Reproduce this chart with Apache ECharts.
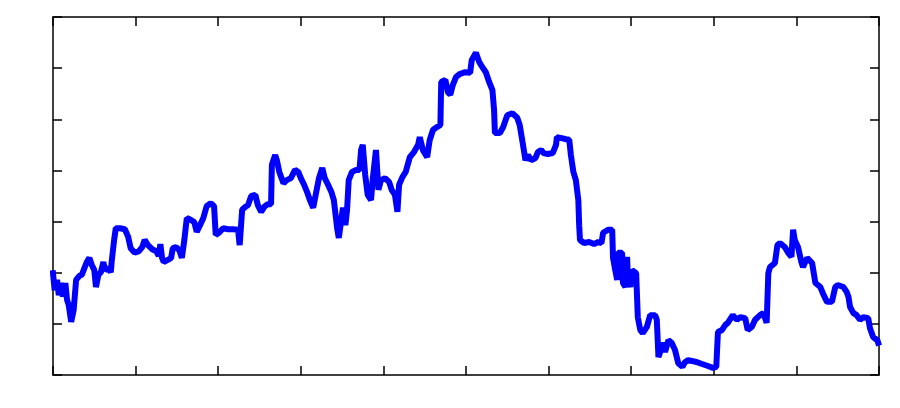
<!DOCTYPE html>
<html>
<head>
<meta charset="utf-8">
<script src="https://cdn.jsdelivr.net/npm/echarts@6/dist/echarts.min.js"></script>
<style>
  html, body { margin: 0; padding: 0; background: #fff; }
  #chart { width: 900px; height: 408px; }
</style>
</head>
<body>
<div id="chart"></div>
<script>
// random walk series (x: step index, y: level)
var days = [
  0, 2, 5, 7, 10, 12, 15, 17, 19, 22, 24, 25, 28, 32, 35, 38, 41, 44, 47, 50,
  52, 55, 58, 61, 63, 67, 70, 71, 74, 76, 81, 87, 91, 94, 99, 104, 108, 111, 115, 120,
  125, 128, 130, 132, 134, 139, 143, 145, 149, 153, 156, 159, 162, 167, 171, 174, 178, 182, 186, 191,
  195, 197, 201, 206, 212, 218, 224, 226, 229, 233, 236, 240, 245, 248, 252, 256, 260, 264, 265, 269,
  271, 274, 279, 283, 288, 293, 297, 300, 304, 308, 311, 315, 318, 322, 326, 329, 333, 337, 340, 344,
  346, 349, 351, 354, 356, 358, 362, 367, 371, 373, 375, 378, 381, 385, 387, 391, 394, 397, 402, 407,
  410, 414, 417, 419, 423, 427, 432, 437, 442, 444, 448, 453, 456, 460, 465, 469, 470, 475, 478, 481,
  484, 488, 493, 499, 505, 507, 512, 516, 519, 524, 528, 532, 534, 535, 541, 545, 550, 556, 562, 565,
  569, 572, 575, 579, 584, 587, 591, 594, 599, 605, 609, 610, 616, 621, 625, 627, 630, 633, 636, 637,
  638, 643, 649, 655, 660, 664, 666, 672, 677, 678, 680, 683, 684, 689, 690, 693, 695, 696, 699, 701,
  706, 708, 711, 714, 719, 723, 729, 731, 733, 735, 739, 741, 745, 749, 753, 757, 762, 765, 769, 775,
  780, 785, 792, 799, 803, 805, 810, 814, 817, 823, 828, 832, 838, 841, 846, 850, 856, 860, 864, 866,
  868, 874, 877, 880, 886, 890, 894, 896, 898, 902, 906, 908, 913, 919, 923, 929, 932, 937, 943, 947,
  950, 957, 961, 963, 965, 969, 973, 977, 981, 987, 989, 993, 998, 999
];
var levels = [
  19.9, 16.6, 18.6, 15.6, 18.0, 15.3, 18.0, 14.7, 13.7, 10.4, 10.2, 12.7, 18.6, 19.4, 19.6, 20.9, 22.1, 22.9, 21.5, 20.5,
  17.2, 19.6, 20.1, 22.1, 20.5, 20.9, 20.1, 22.1, 26.4, 28.7, 28.7, 28.5, 27.0, 24.8, 23.9, 24.2, 25.0, 26.4, 25.4, 24.6,
  24.2, 23.3, 25.6, 22.9, 22.1, 22.5, 22.9, 24.8, 25.0, 24.4, 22.9, 26.4, 30.7, 30.3, 29.9, 28.0, 29.3, 30.7, 33.0, 33.6,
  33.0, 27.4, 27.8, 28.7, 28.5, 28.5, 28.4, 25.4, 32.3, 32.9, 33.2, 35.0, 35.2, 33.2, 31.9, 32.9, 33.4, 33.4, 41.1, 43.0,
  42.0, 39.7, 37.5, 38.1, 38.5, 40.1, 39.7, 38.5, 37.2, 35.6, 34.2, 32.7, 35.2, 38.5, 40.5, 38.5, 37.2, 35.8, 34.2, 28.7,
  26.8, 30.3, 32.7, 29.3, 32.3, 38.1, 39.7, 40.1, 40.1, 44.0, 45.0, 39.1, 35.2, 34.2, 38.1, 44.0, 36.2, 38.1, 38.5, 37.7,
  36.2, 35.2, 31.9, 37.2, 38.7, 39.7, 42.6, 43.6, 45.0, 46.5, 43.9, 42.6, 45.9, 47.9, 48.5, 48.9, 57.3, 57.7, 55.3, 54.8,
  56.7, 58.3, 58.9, 59.2, 59.1, 61.6, 63.0, 61.2, 60.4, 59.2, 57.3, 55.7, 51.8, 47.3, 47.3, 48.5, 50.8, 51.2, 50.3, 48.9,
  45.0, 42.0, 43.0, 42.0, 42.4, 43.6, 44.0, 43.4, 43.2, 43.4, 45.0, 46.5, 46.3, 46.1, 46.0, 43.0, 39.7, 38.1, 34.2, 29.3,
  26.4, 25.8, 26.0, 25.6, 26.0, 25.8, 27.8, 28.4, 28.4, 22.9, 21.1, 18.6, 23.9, 23.9, 18.0, 17.2, 23.1, 19.2, 17.2, 20.5,
  19.9, 11.3, 8.8, 8.2, 9.4, 11.7, 11.7, 10.8, 3.5, 3.3, 6.3, 4.5, 6.8, 6.3, 4.9, 2.3, 1.6, 2.5, 2.9, 2.7,
  2.5, 2.2, 1.8, 1.4, 1.6, 8.4, 8.8, 9.8, 10.2, 11.7, 10.8, 11.3, 11.1, 8.8, 9.4, 10.8, 11.7, 12.1, 10.2, 19.9,
  21.1, 21.9, 25.4, 25.8, 25.0, 23.9, 23.1, 28.4, 26.4, 25.0, 22.1, 21.1, 22.9, 21.9, 18.0, 17.2, 16.0, 14.3, 14.3, 17.2,
  17.6, 17.2, 16.2, 15.3, 13.3, 12.1, 11.7, 10.8, 11.3, 11.1, 9.2, 7.4, 6.8, 6.3
];

var seriesData = days.map(function (d, i) { return [d, levels[i]]; });

var myChart = echarts.init(document.getElementById('chart'));

// box axes, ticks pointing inward, no labels
function boxAxis(pos, min, max, step) {
    return {
        type: 'value',
        position: pos,
        min: min,
        max: max,
        interval: step,
        axisLine: { show: true, onZero: false, lineStyle: { color: '#000', width: 1.5 } },
        axisTick: { show: true, inside: true, length: 9, lineStyle: { color: '#000', width: 1.5 } },
        axisLabel: { show: false },
        splitLine: { show: false }
    };
}

var option = {
    animation: false,
    backgroundColor: '#fff',
    grid: { left: 53, right: 21, top: 17, bottom: 33 },
    xAxis: [boxAxis('bottom', 0, 1000, 100), boxAxis('top', 0, 1000, 100)],
    yAxis: [boxAxis('left', 0, 70, 10), boxAxis('right', 0, 70, 10)],
    series: [{
        type: 'line',
        data: seriesData,
        showSymbol: false,
        lineStyle: { color: '#0000ff', width: 6, join: 'bevel', cap: 'square' },
        itemStyle: { color: '#0000ff' }
    }]
};

myChart.setOption(option);
</script>
</body>
</html>
